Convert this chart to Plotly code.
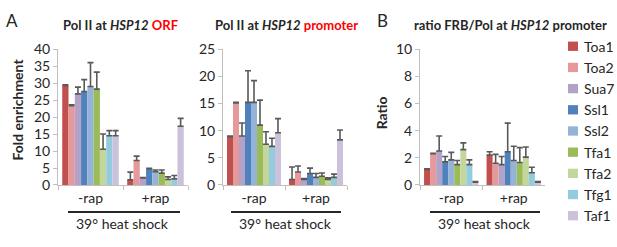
import plotly.graph_objects as go

factors = ["Toa1", "Toa2", "Sua7", "Ssl1", "Ssl2", "Tfa1", "Tfa2", "Tfg1", "Taf1"]
colors = ["#C0504D", "#E6999A", "#B3A2C7", "#4F81BD", "#95B3D7", "#9BBB59", "#C3D69B", "#93CDDD", "#CCC1DA"]
conditions = ["-rap", "+rap"]

# Pol II at HSP12 ORF: [-rap, +rap]
orf_vals = [[29.3, 1.5], [23.3, 7.2], [26.8, 2.1], [27.5, 4.8], [29.0, 3.9],
            [28.2, 3.5], [10.5, 1.6], [14.5, 1.8], [14.5, 17.3]]
orf_err = [[0.2, 2.3], [0.3, 1.3], [2.0, 0.1], [3.5, 0.1], [7.0, 0.5],
           [5.0, 0.9], [4.5, 0.8], [1.5, 1.0], [1.5, 2.3]]

# Pol II at HSP12 promoter
prom_vals = [[8.9, 1.0], [15.1, 2.4], [9.0, 1.0], [15.2, 2.1], [15.2, 1.4],
             [11.0, 1.6], [7.5, 1.0], [7.1, 1.4], [9.6, 8.3]]
prom_err = [[0.1, 2.3], [0.1, 1.1], [2.4, 0.2], [5.8, 1.0], [4.0, 0.7],
            [4.6, 0.6], [2.3, 0.3], [1.5, 0.6], [2.6, 1.8]]

# ratio FRB/Pol at HSP12 promoter
ratio_vals = [[1.15, 2.2], [2.3, 1.6], [2.5, 1.5], [1.7, 2.45], [1.85, 1.8],
              [1.5, 1.65], [2.6, 2.05], [1.5, 0.9], [0.2, 0.2]]
ratio_err = [[0.05, 0.25], [0.03, 0.65], [1.1, 0.6], [0.4, 2.1], [0.55, 1.05],
             [0.3, 1.1], [0.5, 0.75], [0.35, 0.4], [0.05, 0.05]]

FONT = "Lato"
TXT = "#262626"
AX = "#BFBFBF"
ERR = "#595959"

fig = go.Figure()
panels = [(orf_vals, orf_err, "x", "y"), (prom_vals, prom_err, "x2", "y2"), (ratio_vals, ratio_err, "x3", "y3")]
for p, (vals, errs, xa, ya) in enumerate(panels):
    for i, f in enumerate(factors):
        fig.add_trace(go.Bar(
            x=conditions, y=vals[i], name=f, marker=dict(color=colors[i], line=dict(width=0)),
            error_y=dict(type="data", array=errs[i], arrayminus=[0, 0], symmetric=False,
                         color=ERR, thickness=1.6, width=3),
            xaxis=xa, yaxis=ya, showlegend=False,
        ))

W, H = 617, 247
def px(x):
    return x / W
def py(y):
    return 1 - y / H

ybot, ytop = py(189), py(43)
xdoms = [(px(58), px(188)), (px(223), px(347)), (px(420), px(545))]
yranges = [(0, 40, 5), (0, 25, 5), (0, 10, 2)]

layout = dict(
    width=W, height=H, margin=dict(l=0, r=0, t=0, b=0),
    paper_bgcolor="white", plot_bgcolor="white",
    barmode="group", bargap=0.13, bargroupgap=0,
    font=dict(family=FONT, color=TXT, size=14),
    showlegend=False,
)
for k in range(3):
    sfx = "" if k == 0 else str(k + 1)
    layout["xaxis" + sfx] = dict(
        domain=list(xdoms[k]), anchor="y" + sfx, type="category", range=[-0.5, 1.5],
        showline=True, linecolor=AX, linewidth=1, ticks="outside", tickson="boundaries",
        ticklen=4, tickcolor=AX, showgrid=False, tickfont=dict(size=14, color=TXT), zeroline=False,
    )
    lo, hi, dt = yranges[k]
    layout["yaxis" + sfx] = dict(
        domain=[ybot, ytop], anchor="x" + sfx, range=[lo, hi], dtick=dt,
        showline=True, linecolor=AX, linewidth=1, ticks="outside", ticklen=4, tickcolor=AX,
        showgrid=False, zeroline=False, tickfont=dict(size=14, color=TXT),
    )
fig.update_layout(**layout)

ann = []
def A(text, x, y, size=14, bold=False, angle=0, xanchor="center"):
    if bold:
        text = "<b>" + text + "</b>"
    ann.append(dict(text=text, x=px(x), y=py(y), xref="paper", yref="paper", showarrow=False,
                    font=dict(size=size, family=FONT, color=TXT), textangle=angle,
                    xanchor=xanchor, yanchor="middle"))

A("A", 4, 12, size=17, xanchor="left")
A("B", 375, 12, size=17, xanchor="left")
A("Pol II at <i>HSP12</i> <span style='color:#FF0000'>ORF</span>", 120, 17, size=13, bold=True)
A("Pol II at <i>HSP12</i> <span style='color:#FF0000'>promoter</span>", 286, 17, size=13, bold=True)
A("ratio FRB/Pol at <i>HSP12</i> promoter", 510, 17, size=13, bold=True)
A("Fold enrichment", 18, 108, size=14, bold=True, angle=-90)
A("Ratio", 381, 112, size=14, bold=True, angle=-90)
A("39° heat shock", 122, 230, size=14)
A("39° heat shock", 285, 230, size=14)
A("39° heat shock", 484, 230, size=14)

shapes = []
for x0, x1 in [(68, 180), (231, 341), (430, 540)]:
    shapes.append(dict(type="line", xref="paper", yref="paper", x0=px(x0), x1=px(x1),
                       y0=py(218), y1=py(218), line=dict(color="#262626", width=2)))

# manual legend
for i, f in enumerate(factors):
    yc = 40 + i * 22.75
    shapes.append(dict(type="rect", xref="paper", yref="paper", x0=px(568), x1=px(578),
                       y0=py(yc + 5), y1=py(yc - 5), fillcolor=colors[i], line=dict(width=0)))
    A(f, 582, yc, size=14, xanchor="left")

fig.update_layout(annotations=ann, shapes=shapes)

fig.write_html("out.html", config={"displayModeBar": False},
               post_script="document.body.style.margin='0';document.body.style.overflow='hidden';")
